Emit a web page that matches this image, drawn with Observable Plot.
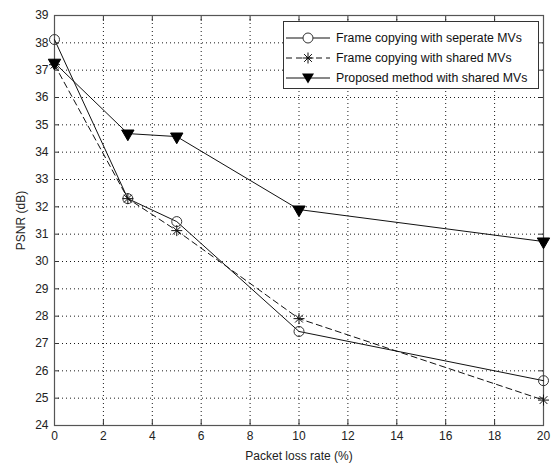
<!DOCTYPE html>
<html>
<head>
<meta charset="utf-8">
<script src="https://cdn.jsdelivr.net/npm/d3@7"></script>
<script src="https://cdn.jsdelivr.net/npm/@observablehq/plot@0.6"></script>
<style>
  html, body { margin: 0; padding: 0; background: #fff; }
  #wrap { position: relative; width: 557px; height: 463px; font-family: "Liberation Sans", Arial, sans-serif; }
  #legend { position: absolute; left: 283px; top: 21px; width: 256px; height: 68px; border: 1px solid #333; background: #fff; box-sizing: border-box; }
  .row { position: absolute; left: 0; height: 20px; display: flex; align-items: center; font-size: 12.3px; color: #111; }
  .row svg { display: block; margin-right: 4px; }
</style>
</head>
<body>
<div id="wrap"></div>
<script>
// ---- data ----
const lossRates = [0, 3, 5, 10, 20];
const seriesNames = [
  "Frame copying with seperate MVs",
  "Frame copying with shared MVs",
  "Proposed method with shared MVs"
];
const separateMVs = [38.12, 32.30, 31.46, 27.44, 25.64];
const sharedMVs   = [37.20, 32.30, 31.13, 27.91, 24.93];
const proposedMVs = [37.27, 34.68, 34.57, 31.90, 30.73];
const xTicks = [0, 2, 4, 6, 8, 10, 12, 14, 16, 18, 20];
const yTicks = [24, 25, 26, 27, 28, 29, 30, 31, 32, 33, 34, 35, 36, 37, 38, 39];

const seriesValues = [separateMVs, sharedMVs, proposedMVs];
const rows = seriesNames.flatMap((name, i) =>
  lossRates.map((x, j) => ({series: name, x, y: seriesValues[i][j]})));
const bySeries = name => rows.filter(d => d.series === name);

// MATLAB-like asterisk (+ and x)
const asterisk = {
  draw(ctx, size) {
    const r = Math.sqrt(size / Math.PI);
    const d = r * Math.SQRT1_2;
    ctx.moveTo(-r, 0); ctx.lineTo(r, 0);
    ctx.moveTo(0, -r); ctx.lineTo(0, r);
    ctx.moveTo(-d, -d); ctx.lineTo(d, d);
    ctx.moveTo(-d, d); ctx.lineTo(d, -d);
  }
};

const axisFont = {fontSize: 12, fill: "#222"};

const chart = Plot.plot({
  width: 557,
  height: 463,
  marginLeft: 54,
  marginRight: 14,
  marginTop: 15,
  marginBottom: 38,
  style: {fontFamily: '"Liberation Sans", Arial, sans-serif', background: "#fff"},
  x: {domain: [0, 20]},
  y: {domain: [24, 39]},
  marks: [
    Plot.gridX(xTicks, {stroke: "#000", strokeOpacity: 0.9, strokeDasharray: "1,3"}),
    Plot.gridY(yTicks, {stroke: "#000", strokeOpacity: 0.9, strokeDasharray: "1,3"}),
    // labels
    Plot.axisX(xTicks, {tickSize: 0, tickPadding: 6, label: "Packet loss rate (%)", labelAnchor: "center", labelArrow: "none", labelOffset: 34, ...axisFont}),
    Plot.axisY(yTicks, {tickSize: 0, tickPadding: 6, label: "PSNR (dB)", labelAnchor: "center", labelArrow: "none", labelOffset: 38, ...axisFont}),
    // inward ticks on all four sides
    Plot.axisX(xTicks, {anchor: "bottom", tickSize: -5, text: null, label: null, stroke: "#333"}),
    Plot.axisX(xTicks, {anchor: "top", tickSize: -5, text: null, label: null, stroke: "#333"}),
    Plot.axisY(yTicks, {anchor: "left", tickSize: -5, text: null, label: null, stroke: "#333"}),
    Plot.axisY(yTicks, {anchor: "right", tickSize: -5, text: null, label: null, stroke: "#333"}),
    Plot.frame({stroke: "#555", strokeWidth: 1.2}),
    // series
    Plot.line(bySeries(seriesNames[0]), {x: "x", y: "y", stroke: "#111", strokeWidth: 1}),
    Plot.line(bySeries(seriesNames[1]), {x: "x", y: "y", stroke: "#111", strokeWidth: 1, strokeDasharray: "6,4"}),
    Plot.line(bySeries(seriesNames[2]), {x: "x", y: "y", stroke: "#111", strokeWidth: 1}),
    Plot.dot(bySeries(seriesNames[0]), {x: "x", y: "y", r: 5, symbol: "circle", fill: "none", stroke: "#333", strokeWidth: 1}),
    Plot.dot(bySeries(seriesNames[1]), {x: "x", y: "y", r: 5.5, symbol: asterisk, fill: "none", stroke: "#111", strokeWidth: 1}),
    Plot.dot(bySeries(seriesNames[2]), {x: "x", y: "y", r: 4.6, symbol: "triangle", rotate: 180, fill: "#000", stroke: "#000", strokeWidth: 1})
  ]
});

const wrap = document.getElementById("wrap");
wrap.appendChild(chart);

// legend
const legend = document.createElement("div");
legend.id = "legend";
const sampleSvg = [
  `<svg width="48" height="14"><line x1="2" y1="7" x2="46" y2="7" stroke="#111"/><circle cx="24" cy="7" r="5" fill="#fff" stroke="#333"/></svg>`,
  `<svg width="48" height="14"><line x1="2" y1="7" x2="46" y2="7" stroke="#111" stroke-dasharray="6,4"/><path d="M18.5,7H29.5M24,1.5V12.5M20.1,3.1L27.9,10.9M20.1,10.9L27.9,3.1" stroke="#111" fill="none"/></svg>`,
  `<svg width="48" height="14"><line x1="2" y1="7" x2="46" y2="7" stroke="#111"/><path d="M18,2.5H30L24,12.5Z" fill="#000"/></svg>`
];
seriesNames.forEach((name, i) => {
  const row = document.createElement("div");
  row.className = "row";
  row.style.top = (6 + i * 20) + "px";
  row.innerHTML = sampleSvg[i] + `<span>${name}</span>`;
  legend.appendChild(row);
});
wrap.appendChild(legend);
</script>
</body>
</html>
